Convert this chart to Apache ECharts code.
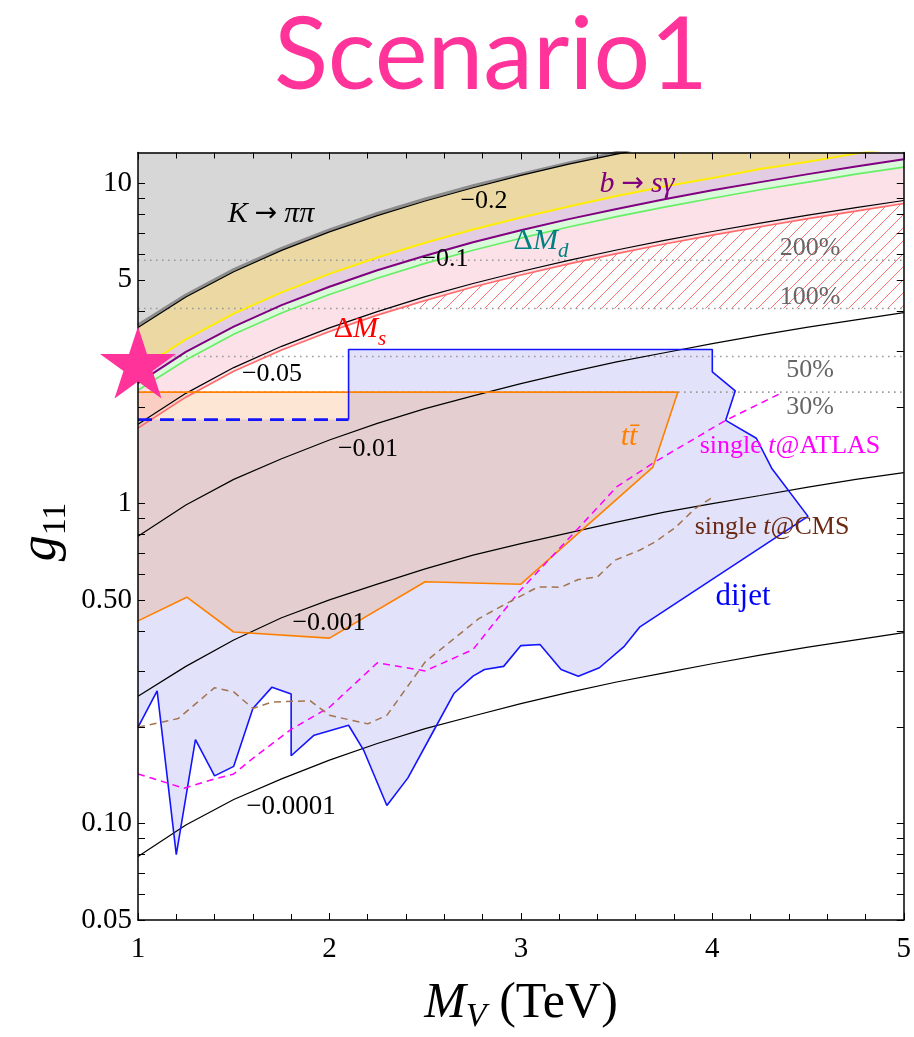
<!DOCTYPE html>
<html><head><meta charset="utf-8">
<script src="https://cdn.jsdelivr.net/npm/echarts@6/dist/echarts.min.js"></script>
<style>html,body{margin:0;padding:0;background:#fff}#c{width:914px;height:1037px}</style>
</head><body><div id="c"></div>
<script>
// ---------------- data ----------------
const yMin = 0.05, yMax = 12.5;
const xMin = 1, xMax = 5;
const yTickVals = [0.05,0.06,0.07,0.08,0.09,0.1,0.2,0.3,0.4,0.5,0.6,0.7,0.8,0.9,1,2,3,4,5,6,7,8,9,10];
const yLabelVals = [0.05, 0.1, 0.5, 1, 5, 10];
const yLabelText = ['0.05', '0.10', '0.50', '1', '5', '10'];

const mGrid      = [1, 1.25, 1.5, 1.75, 2, 2.25, 2.5, 2.75, 3, 3.25, 3.5, 3.75, 4, 4.25, 4.5, 4.75, 5];
const kppBound   = [3.61, 4.48, 5.38, 6.27, 7.16, 8.06, 8.95, 9.84, 10.7, 11.6, 12.5, 13.4, 14.3, 15.2, 16.1, 17.0, 17.9];
const contour02  = [3.55, 4.42, 5.30, 6.18, 7.06, 7.94, 8.82, 9.70, 10.6, 11.5, 12.35, 13.2, 14.1, 15.0, 15.9, 16.8, 17.7];
const bsgUpper   = [2.61, 3.26, 3.92, 4.57, 5.22, 5.87, 6.53, 7.18, 7.83, 8.48, 9.14, 9.79, 10.4, 11.1, 11.7, 12.4, 13.05];
const bsgLower   = [2.38, 2.98, 3.57, 4.17, 4.76, 5.36, 5.95, 6.55, 7.14, 7.74, 8.33, 8.93, 9.52, 10.1, 10.7, 11.3, 11.9];
const dMdBound   = [2.26, 2.81, 3.38, 3.94, 4.50, 5.06, 5.63, 6.19, 6.75, 7.31, 7.88, 8.44, 9.00, 9.56, 10.1, 10.7, 11.25];
const contour005 = [1.77, 2.21, 2.66, 3.10, 3.54, 3.98, 4.43, 4.87, 5.31, 5.75, 6.20, 6.64, 7.08, 7.52, 7.97, 8.41, 8.85];
const dMsBound   = [1.72, 2.15, 2.59, 3.02, 3.45, 3.88, 4.31, 4.75, 5.18, 5.61, 6.04, 6.47, 6.90, 7.33, 7.77, 8.20, 8.66];
const contour001 = [0.79, 0.99, 1.19, 1.38, 1.58, 1.78, 1.98, 2.17, 2.37, 2.57, 2.77, 2.96, 3.16, 3.36, 3.56, 3.75, 3.95];
const contour0001  = [0.25, 0.31, 0.375, 0.44, 0.50, 0.56, 0.625, 0.69, 0.75, 0.81, 0.875, 0.94, 1.00, 1.06, 1.125, 1.19, 1.25];
const contour00001 = [0.079, 0.099, 0.119, 0.138, 0.158, 0.178, 0.198, 0.217, 0.237, 0.257, 0.277, 0.296, 0.316, 0.336, 0.356, 0.375, 0.395];

const pctLabels = ['200%', '100%', '50%', '30%'];
const pctLevels = [5.76, 4.07, 2.88, 2.23];
const hatchStartM = 2.35;

const ttbarM = [1, 1.255, 1.5, 2.0, 2.5, 3.0, 3.69, 3.82, 1];
const ttbarG = [0.43, 0.51, 0.397, 0.38, 0.57, 0.56, 1.30, 2.23, 2.23];

const dijetM = [2.1, 2.1, 4.0, 4.0, 4.12, 4.07, 4.23, 4.31, 4.5, 3.62, 3.54, 3.41, 3.3, 3.21, 3.1, 3.0, 2.91, 2.81, 2.75, 2.65, 2.54, 2.41, 2.3, 2.18, 2.1, 1.92, 1.8, 1.8, 1.7, 1.6, 1.5, 1.4, 1.3, 1.2, 1.1, 1.0];
const dijetG = [1.83, 3.03, 3.03, 2.58, 2.25, 1.82, 1.60, 1.29, 0.912, 0.411, 0.358, 0.307, 0.289, 0.303, 0.363, 0.36, 0.31, 0.303, 0.289, 0.255, 0.193, 0.139, 0.114, 0.169, 0.203, 0.189, 0.163, 0.254, 0.267, 0.229, 0.151, 0.141, 0.183, 0.080, 0.26, 0.20];
const dijetDashM = [1, 2.1];
const dijetDashG = [1.83, 1.83];

const atlasM = [1, 1.24, 1.4, 1.5, 1.6, 1.8, 2.0, 2.25, 2.5, 2.75, 2.99, 3.29, 3.5, 3.7, 4.07, 4.37];
const atlasG = [0.143, 0.129, 0.138, 0.143, 0.16, 0.197, 0.231, 0.318, 0.30, 0.35, 0.53, 0.825, 1.127, 1.35, 1.82, 2.23];

const cmsM = [1, 1.21, 1.4, 1.5, 1.6, 1.7, 1.9, 2.0, 2.2, 2.3, 2.5, 2.78, 2.89, 3.09, 3.21, 3.3, 3.4, 3.49, 3.62, 3.7, 3.81, 3.91, 4.0];
const cmsG = [0.2, 0.213, 0.266, 0.258, 0.229, 0.24, 0.242, 0.218, 0.205, 0.218, 0.32, 0.437, 0.475, 0.549, 0.548, 0.579, 0.59, 0.665, 0.715, 0.758, 0.845, 0.965, 1.045];

const starM = [1];
const starG = [2.76];

// ---------------- helpers ----------------
const zip = (xs, ys) => xs.map((x, i) => [x, ys[i]]);
const curve = g => zip(mGrid, g);
const rev = a => a.slice().reverse();

const SERIF = 'Liberation Serif';

function polySeries(pts, fill, z) {
  return {
    type: 'custom', z: z, silent: true, animation: false,
    xAxisIndex: 0, yAxisIndex: 0,
    data: [[3, 1]],
    renderItem: function (params, api) {
      const cs = params.coordSys;
      return {
        type: 'polygon',
        shape: { points: pts.map(p => api.coord(p)) },
        style: { fill: fill, stroke: null },
        clipPath: { type: 'rect', shape: { x: cs.x, y: cs.y, width: cs.width, height: cs.height } }
      };
    }
  };
}
function lineSeries(pts, color, width, type, z) {
  return {
    type: 'line', z: z, data: pts, showSymbol: false, symbol: 'none', silent: true,
    animation: false, clip: true, smooth: false,
    lineStyle: { color: color, width: width, type: type || 'solid' }
  };
}

// hatch pattern
const hatch = document.createElement('canvas');
hatch.width = 13; hatch.height = 13;
(function () {
  const c = hatch.getContext('2d');
  c.strokeStyle = '#ff7272'; c.lineWidth = 1;
  c.beginPath();
  c.moveTo(-1, 14); c.lineTo(14, -1);
  c.moveTo(-14, 14); c.lineTo(1, -1);
  c.moveTo(12, 14); c.lineTo(27, -1);
  c.stroke();
})();

// region polygons
const grayPoly   = curve(kppBound).concat([[xMax, 1000], [xMin, 1000]]);
const tanPoly    = curve(kppBound).concat(rev(curve(bsgUpper)));
const purplePoly = curve(bsgUpper).concat(rev(curve(bsgLower)));
const greenPoly  = curve(bsgLower).concat(rev(curve(dMdBound)));
const pinkPoly   = curve(dMdBound).concat(rev(curve(dMsBound)));
const hatchPoly  = [[hatchStartM, pctLevels[1]]]
  .concat(curve(dMsBound).filter(p => p[0] > hatchStartM))
  .concat([[xMax, pctLevels[1]]]);
const dijetPoly  = zip(dijetM, dijetG).concat(zip(dijetDashM, dijetDashG));
const ttbarPoly  = zip(ttbarM, ttbarG);

const series = [
  polySeries(grayPoly, '#d7d7d7', 1),
  polySeries(tanPoly, '#ebd8a2', 1),
  polySeries(purplePoly, '#e3cde3', 1),
  polySeries(greenPoly, '#dbf9db', 1),
  polySeries(pinkPoly, '#fde1e9', 1),
  polySeries(hatchPoly, { image: hatch, repeat: 'repeat' }, 2),
  polySeries(dijetPoly, 'rgba(190,190,245,0.45)', 3),
  polySeries(ttbarPoly, 'rgba(245,130,40,0.2)', 4)
];
pctLevels.forEach(v => series.push(lineSeries([[xMin, v], [xMax, v]], '#9a9a9a', 1.6, [1.6, 4.4], 5)));
series.push(lineSeries(curve(kppBound), '#8c8c8c', 3, 'solid', 6));
[contour02, contour005, contour001, contour0001, contour00001].forEach(c =>
  series.push(lineSeries(curve(c), '#000', 1.2, 'solid', 7)));
series.push(lineSeries(curve(bsgUpper), '#ffee00', 2, 'solid', 7));
series.push(lineSeries(curve(bsgLower), '#800080', 2, 'solid', 7));
series.push(lineSeries(curve(dMdBound), '#66ee66', 1.6, 'solid', 7));
series.push(lineSeries(curve(dMsBound), '#ff6a6a', 1.6, 'solid', 7));
series.push(lineSeries(ttbarPoly, '#ff8000', 1.6, 'solid', 8));
series.push(lineSeries(zip(dijetM, dijetG), '#1414ff', 1.6, 'solid', 8));
series.push(lineSeries(zip(dijetDashM, dijetDashG), '#1414ff', 2.6, [14, 8], 8));
series.push(lineSeries(zip(atlasM, atlasG), '#ff00ff', 1.5, [7, 5], 9));
series.push(lineSeries(zip(cmsM, cmsG), '#a2744e', 1.5, [7, 5], 9));
series.push({
  type: 'scatter', z: 20, silent: true, animation: false, clip: false,
  data: zip(starM, starG),
  symbol: 'path://M100,0 L122.45,69.1 L195.1,69.1 L136.3,111.8 L158.8,180.9 L100,138.2 L41.2,180.9 L63.7,111.8 L4.9,69.1 L77.55,69.1 Z',
  symbolSize: [76, 72],
  itemStyle: { color: '#ff3399', opacity: 1 }
});

// ---------------- text annotations ----------------
function T(x, y, text, rich, extra) {
  return Object.assign({
    type: 'text', x: x, y: y, z: 100, silent: true,
    style: { text: text, rich: rich, align: 'center', verticalAlign: 'middle' }
  }, extra || {});
}
function rs(size, color, italic, lh) {
  return { fontFamily: SERIF, fontSize: size, fill: color, fontStyle: italic ? 'italic' : 'normal', lineHeight: lh || Math.round(size * 1.2) };
}
function arr(size, color) {
  return { fontFamily: 'DejaVu Sans', fontSize: size, fill: color, lineHeight: Math.round(size * 1.3), padding: [0, 7, 0, 7] };
}
function sub(size, color, italic) {
  return { fontFamily: SERIF, fontSize: size, fill: color, fontStyle: italic ? 'italic' : 'normal', lineHeight: size, verticalAlign: 'bottom' };
}
const graphics = [
  T(491, 57, 'Scenario1', null, { style: { text: 'Scenario1', fontFamily: 'Lato', fontSize: 100, fill: '#ff3399', align: 'center', verticalAlign: 'middle' } }),
  T(271, 214, '{i|K}{a|→}{i|ππ}', { i: rs(30, '#000', true), a: arr(27, '#000') }),
  T(637, 184, '{i|b}{a|→}{i|sγ}', { i: rs(30, '#800080', true), a: arr(27, '#800080') }),
  T(541, 241, '{r|Δ}{i|M}{s|d}', { r: rs(30, '#008080', false, 42), i: rs(30, '#008080', true, 42), s: sub(21, '#008080', true) }),
  T(360, 329, '{r|Δ}{i|M}{s|s}', { r: rs(30, '#ff0000', false, 42), i: rs(30, '#ff0000', true, 42), s: sub(21, '#ff0000', true) }),
  T(484, 201, '{r|−0.2}', { r: rs(26, '#000', false) }),
  T(445, 259, '{r|−0.1}', { r: rs(26, '#000', false) }),
  T(272, 374, '{r|−0.05}', { r: rs(26, '#000', false) }),
  T(368, 449, '{r|−0.01}', { r: rs(26, '#000', false) }),
  T(329, 623, '{r|−0.001}', { r: rs(26, '#000', false) }),
  T(291, 807, '{r|−0.0001}', { r: rs(27, '#000', false) }),
  T(629, 437, '{i|tt\u0304}', { i: rs(30, '#ff8000', true) }),
  T(790, 446, '{r|single }{i|t}{r|@ATLAS}', { r: rs(26, '#ff00ff', false), i: rs(26, '#ff00ff', true) }),
  T(772, 527, '{r|single }{i|t}{r|@CMS}', { r: rs(26, '#6b2a14', false), i: rs(26, '#6b2a14', true) }),
  T(743, 597, '{r|dijet}', { r: rs(31, '#0000ff', false) }),
  T(41, 532, '{i|g}{s|11}', { i: rs(52, '#000', true, 64), s: sub(34, '#000', false) }, { rotation: Math.PI / 2 }),
  T(521, 1004, '{i|M}{s|V}{r| (TeV)}', { i: rs(50, '#000', true, 60), s: sub(34, '#000', true), r: rs(50, '#000', false, 60) })
];
pctLabels.forEach((t, i) => {
  const ys = [248, 297, 370, 407];
  graphics.push(T(810, ys[i], '{r|' + t + '}', { r: rs(26, '#666', false) }));
});

// ---------------- axes ----------------
function yLabelFmt(v) {
  let best = 0, bd = Infinity;
  yLabelVals.forEach((lv, i) => { const d = Math.abs(Math.log(v / lv)); if (d < bd) { bd = d; best = i; } });
  return yLabelText[best];
}
const axisLineStyle = { color: '#000', width: 1.5 };
function xAx(pos, showLabel) {
  return {
    type: 'value', min: xMin, max: xMax, interval: 1, position: pos, z: 10,
    axisLine: { show: true, onZero: false, lineStyle: axisLineStyle },
    axisTick: { show: true, inside: true, length: 7, lineStyle: { color: '#000', width: 1 } },
    minorTick: { show: true, splitNumber: 5, length: 6, lineStyle: { color: '#000', width: 1 } },
    axisLabel: { show: showLabel, fontFamily: SERIF, fontSize: 29, color: '#000', margin: 15 },
    splitLine: { show: false }, minorSplitLine: { show: false }
  };
}
function yAx(pos, showLabel) {
  return {
    type: 'log', logBase: 10, min: yMin, max: yMax, position: pos, z: 10,
    axisLine: { show: true, onZero: false, lineStyle: axisLineStyle },
    axisTick: { show: true, inside: true, length: 7, customValues: yTickVals, lineStyle: { color: '#000', width: 1 } },
    axisLabel: { show: showLabel, customValues: yLabelVals, formatter: yLabelFmt, fontFamily: SERIF, fontSize: 29, color: '#000', margin: 6 },
    splitLine: { show: false }, minorTick: { show: false }
  };
}

const chart = echarts.init(document.getElementById('c'), null, { renderer: 'canvas' });
chart.setOption({
  animation: false,
  backgroundColor: '#fff',
  grid: { left: 138, right: 8, top: 152.5, bottom: 117, containLabel: false },
  xAxis: [xAx('bottom', true), xAx('top', false)],
  yAxis: [yAx('left', true), yAx('right', false)],
  series: series,
  graphic: graphics
});
</script>
</body></html>
